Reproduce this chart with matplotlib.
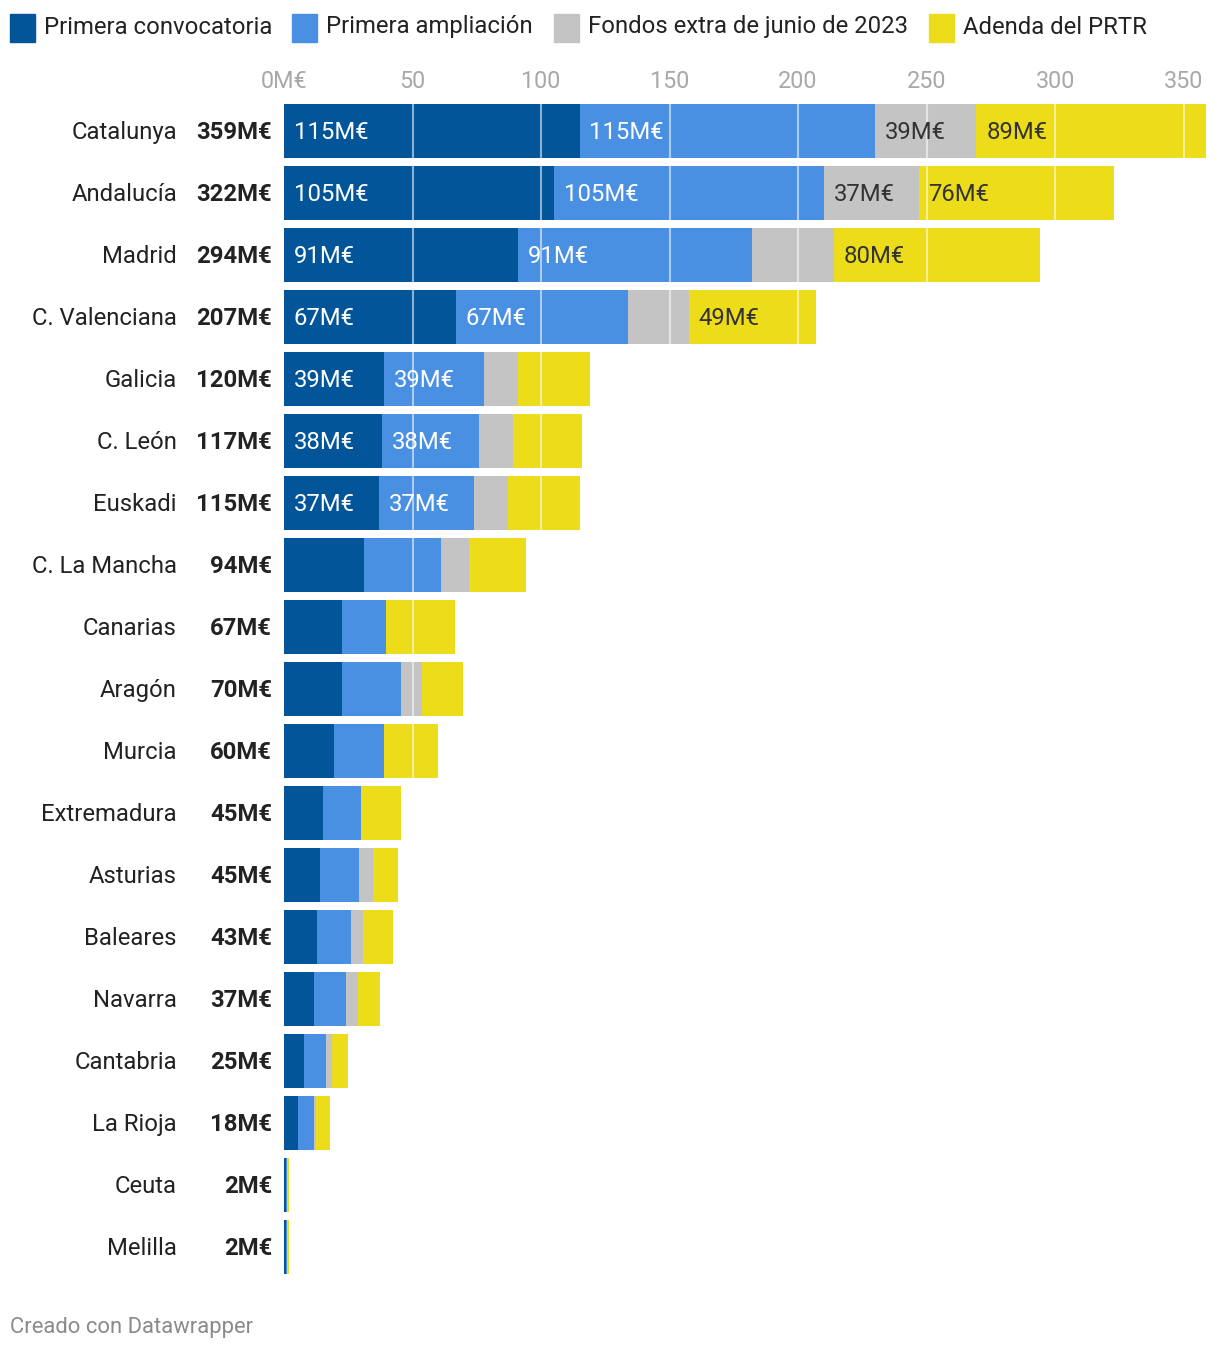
import matplotlib.pyplot as plt
from matplotlib.patches import Rectangle

plt.rcParams['font.family'] = ['Roboto', 'DejaVu Sans']

# Datos (millones de euros)
regiones = ['Catalunya', 'Andalucía', 'Madrid', 'C. Valenciana', 'Galicia', 'C. León',
            'Euskadi', 'C. La Mancha', 'Canarias', 'Aragón', 'Murcia', 'Extremadura',
            'Asturias', 'Baleares', 'Navarra', 'Cantabria', 'La Rioja', 'Ceuta', 'Melilla']
totales = [359, 322, 294, 207, 120, 117, 115, 94, 67, 70, 60, 45, 45, 43, 37, 25, 18, 2, 2]
primera = [115, 105, 91, 67, 39, 38, 37, 31, 22.5, 22.5, 19.5, 15, 14, 13, 11.7, 7.8, 5.4, 0.8, 0.8]
ampliacion = [115, 105, 91, 67, 39, 38, 37, 30, 17, 23, 19.5, 15, 15, 13, 12.4, 8.6, 6.2, 0.4, 0.4]
fondos = [39.4, 37, 32, 23.5, 13, 13, 13, 11, 0, 8, 0, 0, 5.5, 4.7, 4.7, 2.3, 0.8, 0, 0]
adenda = [89.4, 76, 80, 49.4, 28, 27, 28, 22, 27, 16, 21, 15.5, 10, 11.7, 8.6, 6.2, 5.4, 0.8, 0.8]

series = ['Primera convocatoria', 'Primera ampliación', 'Fondos extra de junio de 2023', 'Adenda del PRTR']
colores = ['#03559a', '#4a90e2', '#c4c4c4', '#ecdc1a']
color_texto = ['white', 'white', '#333333', '#333333']
ticks = [0, 50, 100, 150, 200, 250, 300, 350]

fig = plt.figure(figsize=(12.2, 13.52), dpi=100)
ax = fig.add_axes([284 / 1220, 74 / 1352, 924 / 1220, 1178 / 1352])

y = list(range(len(regiones)))
izq = [0] * len(regiones)
for vals, col, tc in zip([primera, ampliacion, fondos, adenda], colores, color_texto):
    ax.barh(y, vals, left=izq, height=0.87, color=col, zorder=2)
    for i, v in enumerate(vals):
        if v >= 35:
            ax.text(izq[i] + 3.8, i + 0.02, f'{v:.0f}M€', color=tc, fontsize=17.2,
                    va='center', ha='left', zorder=4)
    izq = [a + b for a, b in zip(izq, vals)]

# líneas de la cuadrícula por encima de las barras
for t in ticks[1:]:
    ax.axvline(t, color='white', alpha=0.55, lw=1.5, zorder=3)

ax.set_xlim(0, 359.5)
ax.set_ylim(18.5, -0.5)
ax.xaxis.tick_top()
ax.set_xticks(ticks)
ax.set_xticklabels(['0M€'] + [str(t) for t in ticks[1:]])
ax.tick_params(axis='x', length=0, labelsize=16.8, labelcolor='#a8a8a8', pad=5)
ax.set_yticks([])
for s in ax.spines.values():
    s.set_visible(False)

for i, (r, t) in enumerate(zip(regiones, totales)):
    ax.text(-107 / 2.57, i + 0.03, r, ha='right', va='center', fontsize=17.2, color='#222222')
    ax.text(-12 / 2.57, i + 0.03, f'{t}M€', ha='right', va='center', fontsize=17.2,
            fontweight='bold', color='#222222')

# leyenda
leg_x = [10, 292, 554, 929]
for x0, nombre, col in zip(leg_x, series, colores):
    fig.patches.append(Rectangle((x0 / 1220, 1 - 42 / 1352), 25 / 1220, 28 / 1352,
                                 transform=fig.transFigure, color=col))
    fig.text((x0 + 34) / 1220, 1 - 27 / 1352, nombre, fontsize=17.2,
             color='#222222', va='center', ha='left')

fig.text(10 / 1220, 1 - 1327 / 1352, 'Creado con Datawrapper', fontsize=15.8,
         color='#8a8a8a', va='center', ha='left')

fig.savefig('out.png', dpi=100)
